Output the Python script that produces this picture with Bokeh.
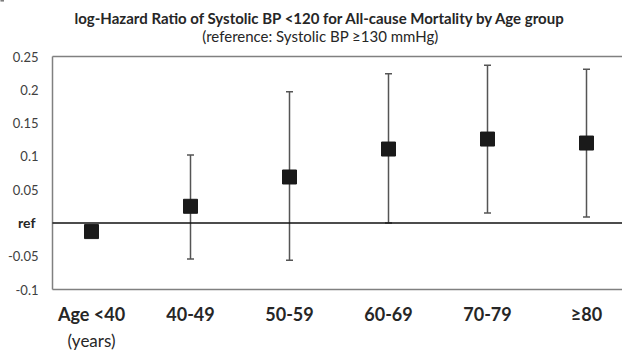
from bokeh.plotting import figure
from bokeh.models import (ColumnDataSource, Range1d, FixedTicker, Whisker, TeeHead,
                          LinearAxis)
from bokeh.core.properties import value
from bokeh.embed import file_html
from bokeh.resources import INLINE
import numpy as np

# ---- data ----
age_groups = ["Age <40", "40-49", "50-59", "60-69", "70-79", "\u226580"]
log_hr = [-0.013, 0.025, 0.069, 0.111, 0.126, 0.120]
ci_lower = [np.nan, -0.054, -0.056, 0.000, 0.015, 0.009]
ci_upper = [np.nan, 0.102, 0.197, 0.224, 0.237, 0.231]
y_ticks = [-0.1, -0.05, 0.05, 0.1, 0.15, 0.2, 0.25]
y_tick_labels = ["-0.1", "-0.05", "0.05", "0.1", "0.15", "0.2", "0.25"]
ref_value = 0.0
ref_label = "ref"
y_min, y_max = -0.1, 0.25
title_text = "log-Hazard Ratio of Systolic BP <120 for All-cause Mortality by Age group"
subtitle_text = "(reference: Systolic BP \u2265130 mmHg)"
x_subnote = "(years)"

FONT = "Lato"

# ---- geometry (pixels) ----
W, H = 622, 356
MB = 59                          # frame spans full width and top; box drawn inside it
BOX_LEFT_PX, BOX_TOP_PX, BOX_BOTTOM_PX = 52, 56, 289
FIRST_CENTER_PX, STEP_PX = 91, 99
TITLE_X_PX, TITLE_Y_PX = 320, 17
SUBTITLE_X_PX, SUBTITLE_Y_PX = 320, 35

ppx = STEP_PX
ppy = (BOX_BOTTOM_PX - BOX_TOP_PX) / (y_max - y_min)
X_START = -FIRST_CENTER_PX / ppx
X_END = (W - FIRST_CENTER_PX) / ppx
BOX_LEFT = X_START + BOX_LEFT_PX / ppx
Y_END = y_max + BOX_TOP_PX / ppy
Y_START = y_min - ((H - MB) - BOX_BOTTOM_PX) / ppy


def px_x(px):
    return X_START + px / ppx


def px_y(py):
    return Y_END - py / ppy


xs = list(range(len(age_groups)))
src = ColumnDataSource(dict(x=xs, y=log_hr, lo=ci_lower, hi=ci_upper))

p = figure(width=W, height=H, output_backend="svg", toolbar_location=None,
           x_range=Range1d(X_START, X_END), y_range=Range1d(Y_START, Y_END),
           min_border_left=0, min_border_right=0, min_border_top=0,
           min_border_bottom=MB, y_axis_location=None)
p.outline_line_color = None
p.grid.visible = False
p.background_fill_color = "white"
p.border_fill_color = "white"

# titles
p.text(x=[px_x(TITLE_X_PX)], y=[px_y(TITLE_Y_PX)], text=[title_text],
       text_align="center", text_baseline="middle", text_font=value(FONT),
       text_font_size="15px", text_font_style="bold", text_color="#262626")
p.text(x=[px_x(SUBTITLE_X_PX)], y=[px_y(SUBTITLE_Y_PX)], text=[subtitle_text],
       text_align="center", text_baseline="middle", text_font=value(FONT),
       text_font_size="15px", text_color="#262626")

# x axis (labels only)
p.xaxis.ticker = FixedTicker(ticks=xs)
p.xaxis.major_label_overrides = {i: g for i, g in zip(xs, age_groups)}
p.xaxis.major_label_text_font = FONT
p.xaxis.major_label_text_font_size = "18px"
p.xaxis.major_label_text_font_style = "bold"
p.xaxis.major_label_text_color = "#262626"
p.xaxis.major_tick_line_color = None
p.xaxis.minor_tick_line_color = None
p.xaxis.major_tick_out = 0
p.xaxis.major_tick_in = 0
p.xaxis.minor_tick_out = 0
p.xaxis.minor_tick_in = 0
p.xaxis.major_label_standoff = 5
p.xaxis.axis_line_color = None

sub_axis = LinearAxis(ticker=FixedTicker(ticks=[xs[0]]),
                      major_label_overrides={xs[0]: x_subnote},
                      major_label_text_font=FONT, major_label_text_font_size="17px",
                      major_label_text_color="#262626", major_label_standoff=2,
                      axis_line_color=None, major_tick_line_color=None,
                      minor_tick_line_color=None, major_tick_out=0, major_tick_in=0,
                      minor_tick_out=0, minor_tick_in=0)
p.add_layout(sub_axis, "below")

# plot box (left, top, bottom borders) and reference line
p.segment(x0=[BOX_LEFT, BOX_LEFT, BOX_LEFT], y0=[y_min, y_max, y_min],
          x1=[BOX_LEFT, X_END, X_END], y1=[y_max, y_max, y_min],
          line_color="#808080", line_width=1.5)
p.segment(x0=[BOX_LEFT], y0=[ref_value], x1=[X_END], y1=[ref_value],
          line_color="#111111", line_width=1.5)

# y tick labels
p.text(x=[BOX_LEFT] * len(y_ticks), y=y_ticks, text=y_tick_labels, x_offset=-14,
       text_align="right", text_baseline="middle", text_font=value(FONT),
       text_font_size="13px", text_color="#404040")
p.text(x=[BOX_LEFT], y=[ref_value], text=[ref_label], x_offset=-17,
       text_align="right", text_baseline="middle", text_font=value(FONT),
       text_font_size="14px", text_font_style="bold", text_color="#262626")

# error bars
p.add_layout(Whisker(source=src, base="x", lower="lo", upper="hi",
                     line_color="#555555", line_width=1.5,
                     lower_head=TeeHead(size=7, line_color="#555555", line_width=1.5),
                     upper_head=TeeHead(size=7, line_color="#555555", line_width=1.5)))

p.scatter("x", "y", source=src, marker="square", size=14,
          fill_color="#1a1a1a", line_color="#1a1a1a")

open("out.html", "w").write(file_html(p, INLINE))
